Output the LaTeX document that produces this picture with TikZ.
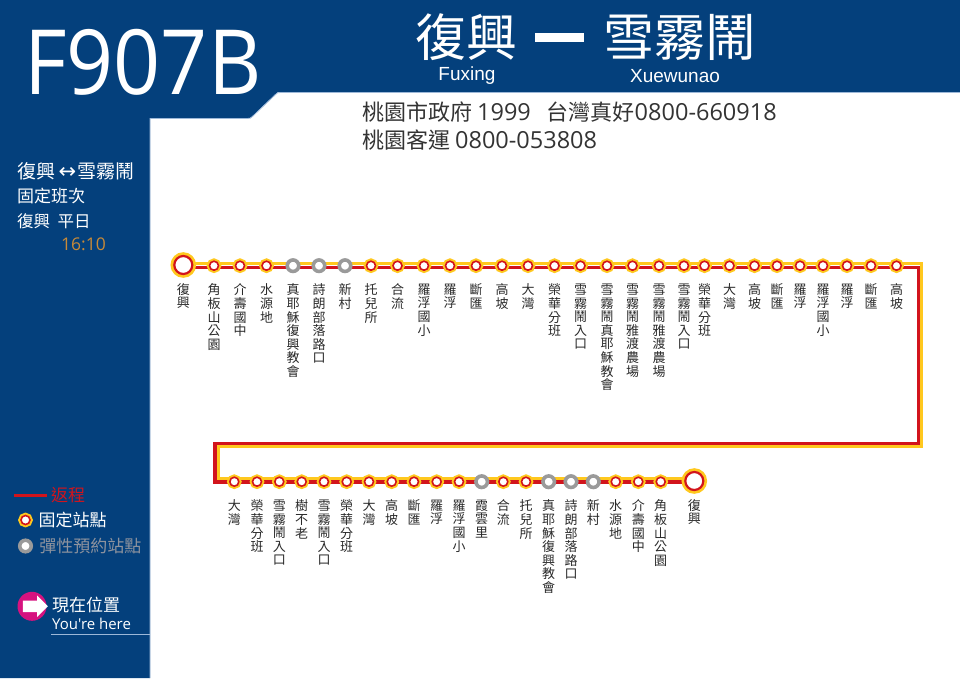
\documentclass[tikz,border=0pt]{standalone}
\usepackage{fontspec}
\setmainfont{Noto Sans CJK TC}
\newfontfamily\latinfont{Open Sans}
\newfontfamily\routefont[FakeStretch=0.915]{Open Sans}
\newfontfamily\arialfont{Liberation Sans}
\newfontfamily\symbolfont{DejaVu Sans}
\usetikzlibrary{positioning}
\usetikzlibrary{backgrounds}
\usetikzlibrary{shapes.arrows}
\definecolor{busblue}{HTML}{04407C}
\definecolor{edgeblue}{HTML}{9DB8D8}
\definecolor{routered}{HTML}{D2141C}
\definecolor{routeyellow}{HTML}{FFC81E}
\definecolor{flexgray}{HTML}{9A9A9A}
\definecolor{legendgray}{HTML}{8E939E}
\definecolor{timeorange}{HTML}{C88A38}
\definecolor{hotpink}{HTML}{D6127F}
\definecolor{labelgray}{HTML}{2A2A2A}
\tikzset{
	stopfixed/.style={circle, fill=white, draw=routered, line width=1.6pt, minimum size=9pt, inner sep=0pt, outer sep=0pt, preaction={draw=routeyellow, line width=5.5pt}},
	stopend/.style={circle, fill=white, draw=routered, line width=2.2pt, minimum size=18pt, inner sep=0pt, outer sep=0pt, preaction={draw=routeyellow, line width=7.5pt}},
	stopflex/.style={circle, fill=white, draw=flexgray, line width=3.6pt, minimum size=11.5pt, inner sep=0pt, outer sep=0pt},
	stoplabel/.style={text width=14pt, align=center, inner sep=0pt, labelgray, font=\fontsize{13}{13.6}\selectfont},
	sidetext/.style={anchor=west, inner sep=0pt, white, font=\fontsize{17}{20}\selectfont},
	phonetext/.style={anchor=west, inner sep=0pt, black!80, font=\fontsize{22}{26}\selectfont},
	headtext/.style={inner sep=0pt, white, font=\fontsize{51}{56}\selectfont},
	headsub/.style={inner sep=0pt, white, font=\arialfont\fontsize{19}{22}\selectfont},
	yellowline/.style={routeyellow, line width=3.6pt},
	redline/.style={routered, line width=3.6pt}
}
\newcommand{\phonenum}[1]{{\latinfont\fontsize{23.5}{26}\selectfont #1}}
\XeTeXlinebreaklocale "zh"
\XeTeXlinebreakskip=0pt plus 1pt
\begin{document}
\begin{tikzpicture}[x=1pt, y=-1pt]
	\useasboundingbox (0,0) rectangle (960,678);
	
	% blue frame
	\fill [busblue] (0,0) -- (960,0) -- (960,92) -- (281,92) .. controls (277.5,92) .. (275,94.5) -- (253,115.5) .. controls (250.5,118) .. (247,118) -- (150,118) -- (150,678) -- (0,678) -- cycle;
	\draw [edgeblue, line width=0.8pt] (960,92.5) -- (281,92.5) .. controls (277.5,92.5) .. (275,95) -- (253,116) .. controls (250.5,118.5) .. (247,118.5) -- (150,118.5) -- (150,678);
	
	% header
	\node [anchor=west, inner sep=0pt, white, font=\routefont\fontsize{90}{90}\selectfont] at (24,62) (ROUTE) {F907B};
	\node [headtext] at (466.5,37) (ORIGIN) {復興};
	\node [minimum width=49pt, minimum height=9pt, inner sep=0pt, fill=white] at (559.5,37.5) (DASH) {};
	\node [headtext] at (679.5,37) (DEST) {雪霧鬧};
	\node [headsub] at (467,76) (ORIGINEN) {Fuxing};
	\node [headsub] at (675,76) (DESTEN) {Xuewunao};
	\node [phonetext] at (362,112) (PHONEA) {桃園市政府 \phonenum{1999}\ \ \hspace{6pt}台灣真好\phonenum{0800-660918}};
	\node [phonetext] at (362,140) (PHONEB) {桃園客運 \phonenum{0800-053808}};
	
	% side panel
	\node [sidetext, font=\fontsize{19}{20}\selectfont] at (17,171) (SIDEA) {復興\hspace{3.5pt}{\symbolfont\fontsize{21}{20}\selectfont ↔}\hspace{1pt}雪霧鬧};
	\node [sidetext] at (17,195.5) (SIDEB) {固定班次};
	\node [sidetext, font=\fontsize{16.5}{20}\selectfont] at (17,221) (SIDEC) {復興\ \ 平日};
	\node [sidetext, timeorange, font=\latinfont\fontsize{17.5}{20}\selectfont] at (61,244.5) (SIDETIME) {16:10};
	
	% legend
	\coordinate (LEGLINEA) at (14,495.5);
	\coordinate (LEGLINEB) at (46.5,495.5);
	\draw [routered, line width=3pt] (LEGLINEA) -- (LEGLINEB);
	\node [sidetext, routered] at (51,495) (LEGRETURN) {返程};
	\node [stopfixed] at (25.5,520) (LEGFIXED) {};
	\node [sidetext, right=8.5pt of LEGFIXED] (LEGFIXEDT) {固定站點};
	\node [stopflex] at (25.5,546) (LEGFLEX) {};
	\node [sidetext, legendgray, right=8pt of LEGFLEX] (LEGFLEXT) {彈性預約站點};
	\node [circle, fill=hotpink, minimum size=29pt, inner sep=0pt] at (32,606.3) (HEREDOT) {};
	\node [single arrow, fill=white, minimum height=25pt, single arrow head extend=5pt, inner sep=5.5pt] at (32.5,606.3) (HEREARROW) {};
	\node [sidetext] at (52,605) (HERE) {現在位置};
	\node [sidetext, font=\latinfont\fontsize{15}{18}\selectfont] at (52,624) (HEREEN) {You're here};
	\coordinate (RULEA) at (51,634.5);
	\coordinate (RULEB) at (150,634.5);
	\draw [edgeblue, line width=1pt] (RULEA) -- (RULEB);
	
	% outbound stops
	\node [stopend] at (183.3,265) (A1) {}; \node [stoplabel, below=18pt of A1.center] {復興};
	\node [stopfixed] at (214,265.7) (A2) {}; \node [stoplabel, below=18pt of A2.center] {角板山公園};
	\node [stopfixed] at (240,265.7) (A3) {}; \node [stoplabel, below=18pt of A3.center] {介壽國中};
	\node [stopfixed] at (266.5,265.7) (A4) {}; \node [stoplabel, below=18pt of A4.center] {水源地};
	\node [stopflex] at (293,265.7) (A5) {}; \node [stoplabel, below=18pt of A5.center] {真耶穌復興教會};
	\node [stopflex] at (319,265.7) (A6) {}; \node [stoplabel, below=18pt of A6.center] {詩朗部落路口};
	\node [stopflex] at (345,265.7) (A7) {}; \node [stoplabel, below=18pt of A7.center] {新村};
	\node [stopfixed] at (371,265.7) (A8) {}; \node [stoplabel, below=18pt of A8.center] {托兒所};
	\node [stopfixed] at (397.5,265.7) (A9) {}; \node [stoplabel, below=18pt of A9.center] {合流};
	\node [stopfixed] at (424,265.7) (A10) {}; \node [stoplabel, below=18pt of A10.center] {羅浮國小};
	\node [stopfixed] at (450,265.7) (A11) {}; \node [stoplabel, below=18pt of A11.center] {羅浮};
	\node [stopfixed] at (476,265.7) (A12) {}; \node [stoplabel, below=18pt of A12.center] {斷匯};
	\node [stopfixed] at (502,265.7) (A13) {}; \node [stoplabel, below=18pt of A13.center] {高坡};
	\node [stopfixed] at (528,265.7) (A14) {}; \node [stoplabel, below=18pt of A14.center] {大灣};
	\node [stopfixed] at (554.5,265.7) (A15) {}; \node [stoplabel, below=18pt of A15.center] {榮華分班};
	\node [stopfixed] at (580.5,265.7) (A16) {}; \node [stoplabel, below=18pt of A16.center] {雪霧鬧入口};
	\node [stopfixed] at (607,265.7) (A17) {}; \node [stoplabel, below=18pt of A17.center] {雪霧鬧真耶穌教會};
	\node [stopfixed] at (632.5,265.7) (A18) {}; \node [stoplabel, below=18pt of A18.center] {雪霧鬧雅渡農場};
	\node [stopfixed] at (659,265.7) (A19) {}; \node [stoplabel, below=18pt of A19.center] {雪霧鬧雅渡農場};
	\node [stopfixed] at (684,265.7) (A20) {}; \node [stoplabel, below=18pt of A20.center] {雪霧鬧入口};
	\node [stopfixed] at (704.5,265.7) (A21) {}; \node [stoplabel, below=18pt of A21.center] {榮華分班};
	\node [stopfixed] at (729.5,265.7) (A22) {}; \node [stoplabel, below=18pt of A22.center] {大灣};
	\node [stopfixed] at (754.5,265.7) (A23) {}; \node [stoplabel, below=18pt of A23.center] {高坡};
	\node [stopfixed] at (777,265.7) (A24) {}; \node [stoplabel, below=18pt of A24.center] {斷匯};
	\node [stopfixed] at (800,265.7) (A25) {}; \node [stoplabel, below=18pt of A25.center] {羅浮};
	\node [stopfixed] at (823,265.7) (A26) {}; \node [stoplabel, below=18pt of A26.center] {羅浮國小};
	\node [stopfixed] at (847,265.7) (A27) {}; \node [stoplabel, below=18pt of A27.center] {羅浮};
	\node [stopfixed] at (871,265.7) (A28) {}; \node [stoplabel, below=18pt of A28.center] {斷匯};
	\node [stopfixed] at (896.5,265.7) (A29) {}; \node [stoplabel, below=18pt of A29.center] {高坡};
	
	% return stops
	\node [stopfixed] at (234.3,481.7) (B1) {}; \node [stoplabel, below=18pt of B1.center] {大灣};
	\node [stopfixed] at (257,481.7) (B2) {}; \node [stoplabel, below=18pt of B2.center] {榮華分班};
	\node [stopfixed] at (279.3,481.7) (B3) {}; \node [stoplabel, below=18pt of B3.center] {雪霧鬧入口};
	\node [stopfixed] at (301.7,481.7) (B4) {}; \node [stoplabel, below=18pt of B4.center] {樹不老};
	\node [stopfixed] at (324,481.7) (B5) {}; \node [stoplabel, below=18pt of B5.center] {雪霧鬧入口};
	\node [stopfixed] at (346.7,481.7) (B6) {}; \node [stoplabel, below=18pt of B6.center] {榮華分班};
	\node [stopfixed] at (369,481.7) (B7) {}; \node [stoplabel, below=18pt of B7.center] {大灣};
	\node [stopfixed] at (391.7,481.7) (B8) {}; \node [stoplabel, below=18pt of B8.center] {高坡};
	\node [stopfixed] at (414,481.7) (B9) {}; \node [stoplabel, below=18pt of B9.center] {斷匯};
	\node [stopfixed] at (436.7,481.7) (B10) {}; \node [stoplabel, below=18pt of B10.center] {羅浮};
	\node [stopfixed] at (459,481.7) (B11) {}; \node [stoplabel, below=18pt of B11.center] {羅浮國小};
	\node [stopflex] at (481.7,481.7) (B12) {}; \node [stoplabel, below=18pt of B12.center] {霞雲里};
	\node [stopfixed] at (503.3,481.7) (B13) {}; \node [stoplabel, below=18pt of B13.center] {合流};
	\node [stopfixed] at (526,481.7) (B14) {}; \node [stoplabel, below=18pt of B14.center] {托兒所};
	\node [stopflex] at (548.7,481.7) (B15) {}; \node [stoplabel, below=18pt of B15.center] {真耶穌復興教會};
	\node [stopflex] at (571,481.7) (B16) {}; \node [stoplabel, below=18pt of B16.center] {詩朗部落路口};
	\node [stopflex] at (593.3,481.7) (B17) {}; \node [stoplabel, below=18pt of B17.center] {新村};
	\node [stopfixed] at (615.7,481.7) (B18) {}; \node [stoplabel, below=18pt of B18.center] {水源地};
	\node [stopfixed] at (638.3,481.7) (B19) {}; \node [stoplabel, below=18pt of B19.center] {介壽國中};
	\node [stopfixed] at (660.7,481.7) (B20) {}; \node [stoplabel, below=18pt of B20.center] {角板山公園};
	\node [stopend] at (694.3,481) (B21) {}; \node [stoplabel, below=18pt of B21.center] {復興};
	
	% route line, under the stops
	\coordinate (YNE) at (921.5,446);
	\coordinate (YSW) at (218,446);
	\coordinate (RNE) at (918.5,443.5);
	\coordinate (RSW) at (215,443.5);
	\begin{scope}[on background layer]
		\draw [yellowline] ([yshift=1.5pt]A1.center) -| (YNE) -- (YSW) |- ([yshift=2.3pt]B21.center);
		\draw [redline] ([yshift=-2.5pt]A1.center) -| (RNE) -- (RSW) |- ([yshift=-0.7pt]B21.center);
	\end{scope}
	
\end{tikzpicture}
\end{document}
